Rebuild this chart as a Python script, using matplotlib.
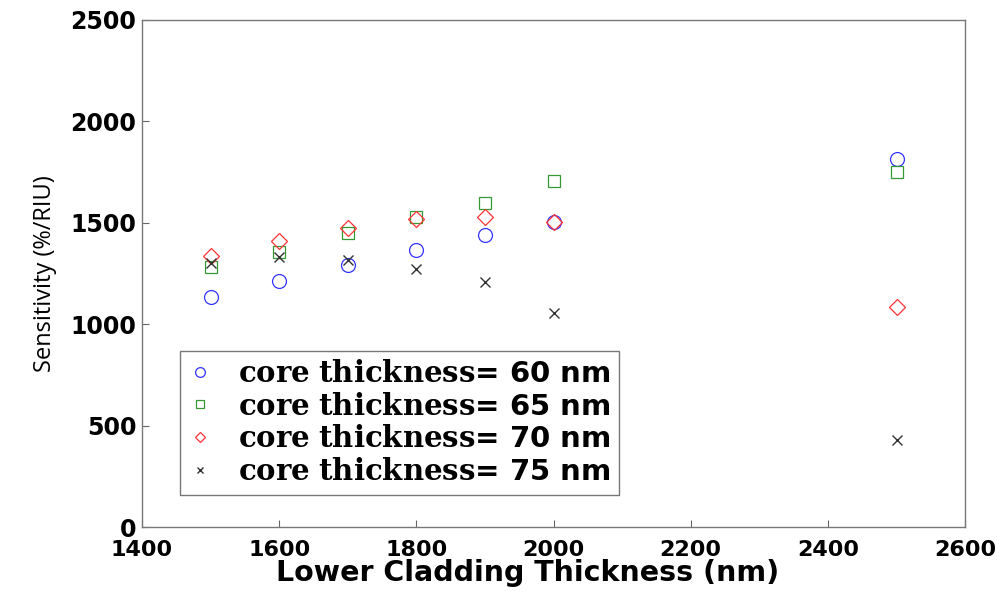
import numpy as np
import matplotlib.pyplot as plt

# lower cladding thickness (nm) and sensitivity (%/RIU) for each core thickness
cladding = [1500, 1600, 1700, 1800, 1900, 2000, 2500]
sens_60 = [1135, 1215, 1290, 1365, 1440, 1505, 1815]
sens_65 = [1280, 1358, 1450, 1530, 1595, 1706, 1750]
sens_70 = [1338, 1412, 1472, 1516, 1528, 1505, 1085]
sens_75 = [1302, 1331, 1316, 1272, 1208, 1055, 430]

labels = ["60", "65", "70", "75"]

plt.rcParams['mathtext.fontset'] = 'custom'
plt.rcParams['mathtext.bf'] = 'DejaVu Serif:bold'
plt.rcParams['mathtext.rm'] = 'DejaVu Serif:bold'

fig = plt.figure(figsize=(9.97, 6.01), dpi=100)
ax = fig.add_axes([0.1424, 0.123, 0.8256, 0.844])

ax.plot(cladding, sens_60, 'o', mfc='none', mec=(0.2, 0.2, 1.0), ms=10, mew=0.9,
        label=r"$\mathbf{core\ thickness}$= " + labels[0] + " nm")
ax.plot(cladding, sens_65, 's', mfc='none', mec=(0.2, 0.6, 0.2), ms=9, mew=0.9,
        label=r"$\mathbf{core\ thickness}$= " + labels[1] + " nm")
ax.plot(cladding, sens_70, 'D', mfc='none', mec=(1.0, 0.2, 0.2), ms=8, mew=0.9,
        label=r"$\mathbf{core\ thickness}$= " + labels[2] + " nm")
ax.plot(cladding, sens_75, 'x', color=(0.2, 0.2, 0.2), ms=7, mew=1.0,
        label=r"$\mathbf{core\ thickness}$= " + labels[3] + " nm")

ax.set_xlim(1400, 2600)
ax.set_ylim(0, 2500)
ax.set_xticks(np.arange(1400, 2601, 200))
ax.set_yticks(np.arange(0, 2501, 500))
ax.tick_params(direction='in', length=5, width=0.8, color='#666666')
ax.tick_params(axis='x', pad=9)
ax.tick_params(axis='y', pad=4)
for lab in ax.get_xticklabels() + ax.get_yticklabels():
    lab.set_fontfamily('DejaVu Sans')
    lab.set_fontweight('bold')
    lab.set_fontsize(17)
for lab in ax.get_xticklabels():
    lab.set_fontsize(16)
for s in ax.spines.values():
    s.set_color('#777777')
    s.set_linewidth(1.0)

ax.set_xlabel("Lower Cladding Thickness (nm)", fontfamily='DejaVu Sans',
              fontweight='bold', fontsize=20.5)
ax.xaxis.set_label_coords(0.468, -0.062)
ax.set_ylabel("Sensitivity (%/RIU)", fontfamily='Open Sans', fontsize=17, labelpad=10)

leg = ax.legend(loc='lower left', bbox_to_anchor=(0.046, 0.064), borderaxespad=0,
                markerscale=0.7,
                prop={'family': 'DejaVu Sans', 'weight': 'bold', 'size': 21},
                fancybox=False, edgecolor='#777777', framealpha=1,
                handlelength=0.8, handletextpad=0.9, borderpad=0.3, labelspacing=0.16)
leg.get_frame().set_linewidth(1.0)

fig.savefig("out.png", dpi=100)
